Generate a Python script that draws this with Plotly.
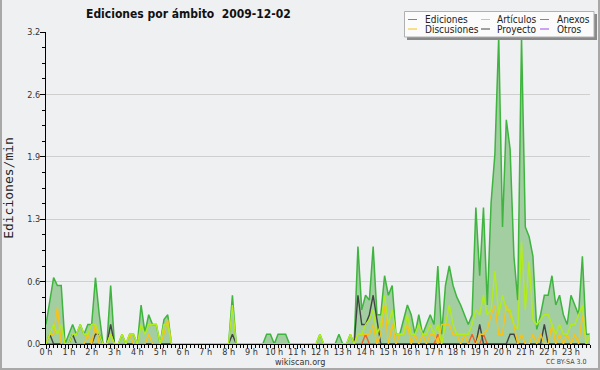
import plotly.graph_objects as go

# ---- data (edits per minute, 10-minute buckets, 00:00 .. 23:50) ----
hours = [f"{h} h" for h in range(24)]
series_names = ["Ediciones", "Artículos", "Anexos", "Discusiones", "Proyecto", "Otros"]

ediciones = [
    0.2, 0.45, 0.68, 0.6, 0.6, 0.0, 0.1, 0.2, 0.1, 0.2, 0.1, 0.2,
    0.2, 0.68, 0.3, 0.0, 0.0, 0.6, 0.0, 0.0, 0.1, 0.0, 0.1, 0.1,
    0.0, 0.4, 0.12, 0.3, 0.2, 0.2, 0.0, 0.25, 0.3, 0.0, 0.0, 0.0,
    0.0, 0.0, 0.0, 0.0, 0.0, 0.0, 0.0, 0.0, 0.0, 0.0, 0.0, 0.0,
    0.0, 0.5, 0.0, 0.0, 0.0, 0.0, 0.0, 0.0, 0.0, 0.0, 0.1, 0.1,
    0.0, 0.1, 0.1, 0.1, 0.0, 0.0, 0.0, 0.0, 0.0, 0.0, 0.0, 0.0,
    0.1, 0.0, 0.0, 0.0, 0.0, 0.1, 0.0, 0.0, 0.1, 0.0, 1.0, 0.35,
    0.5, 0.45, 1.0, 0.3, 0.3, 0.7, 0.5, 0.6, 0.1, 0.1, 0.25, 0.4,
    0.3, 0.1, 0.3, 0.1, 0.2, 0.3, 0.2, 0.8, 0.1, 0.6, 0.8, 0.6,
    0.48, 0.4, 0.3, 0.2, 0.3, 1.4, 0.7, 1.4, 0.4, 1.45, 1.95, 3.15,
    1.2, 2.3, 2.0, 0.9, 0.45, 3.15, 1.2, 1.1, 0.9, 0.15, 0.3, 0.5,
    0.5, 0.7, 0.4, 0.5, 0.3, 0.2, 0.5, 0.4, 0.3, 0.9, 0.1, 0.1,
]
articulos = [
    0.0, 0.1, 0.2, 0.1, 0.2, 0.0, 0.0, 0.1, 0.1, 0.2, 0.1, 0.1,
    0.2, 0.2, 0.1, 0.0, 0.0, 0.1, 0.0, 0.0, 0.1, 0.0, 0.1, 0.1,
    0.0, 0.2, 0.1, 0.2, 0.2, 0.2, 0.0, 0.2, 0.2, 0.0, 0.0, 0.0,
    0.0, 0.0, 0.0, 0.0, 0.0, 0.0, 0.0, 0.0, 0.0, 0.0, 0.0, 0.0,
    0.0, 0.4, 0.0, 0.0, 0.0, 0.0, 0.0, 0.0, 0.0, 0.0, 0.0, 0.0,
    0.0, 0.0, 0.0, 0.0, 0.0, 0.0, 0.0, 0.0, 0.0, 0.0, 0.0, 0.0,
    0.1, 0.0, 0.0, 0.0, 0.0, 0.0, 0.0, 0.0, 0.1, 0.0, 0.1, 0.1,
    0.2, 0.25, 0.35, 0.1, 0.2, 0.5, 0.2, 0.35, 0.1, 0.1, 0.1, 0.3,
    0.1, 0.1, 0.2, 0.1, 0.1, 0.2, 0.1, 0.2, 0.0, 0.2, 0.4, 0.2,
    0.1, 0.1, 0.1, 0.1, 0.2, 0.35, 0.3, 0.5, 0.3, 0.35, 0.75, 0.3,
    0.5, 0.35, 0.35, 0.2, 0.15, 1.05, 0.35, 0.85, 0.25, 0.2, 0.25, 0.3,
    0.3, 0.2, 0.1, 0.2, 0.1, 0.1, 0.2, 0.2, 0.3, 0.4, 0.0, 0.1,
]
discusiones = [
    0.0, 0.1, 0.1, 0.38, 0.0, 0.0, 0.0, 0.0, 0.0, 0.0, 0.0, 0.1,
    0.0, 0.2, 0.0, 0.0, 0.0, 0.1, 0.0, 0.0, 0.0, 0.0, 0.1, 0.0,
    0.0, 0.0, 0.0, 0.1, 0.0, 0.0, 0.0, 0.1, 0.25, 0.0, 0.0, 0.0,
    0.0, 0.0, 0.0, 0.0, 0.0, 0.0, 0.0, 0.0, 0.0, 0.0, 0.0, 0.0,
    0.0, 0.0, 0.0, 0.0, 0.0, 0.0, 0.0, 0.0, 0.0, 0.0, 0.0, 0.0,
    0.0, 0.0, 0.0, 0.0, 0.0, 0.0, 0.0, 0.0, 0.0, 0.0, 0.0, 0.0,
    0.0, 0.0, 0.0, 0.0, 0.0, 0.0, 0.0, 0.0, 0.0, 0.0, 0.1, 0.1,
    0.1, 0.1, 0.2, 0.0, 0.1, 0.4, 0.0, 0.2, 0.0, 0.1, 0.1, 0.2,
    0.0, 0.1, 0.0, 0.1, 0.0, 0.1, 0.1, 0.0, 0.2, 0.2, 0.2, 0.1,
    0.1, 0.0, 0.1, 0.0, 0.0, 0.0, 0.1, 0.1, 0.15, 0.3, 0.4, 0.1,
    0.1, 0.4, 0.3, 0.2, 0.0, 0.1, 0.0, 0.0, 0.1, 0.0, 0.1, 0.0,
    0.0, 0.2, 0.0, 0.1, 0.0, 0.1, 0.0, 0.1, 0.0, 0.3, 0.0, 0.0,
]
proyecto = [
    0.0, 0.1, 0.0, 0.0, 0.0, 0.0, 0.0, 0.1, 0.0, 0.0, 0.0, 0.0,
    0.0, 0.1, 0.1, 0.0, 0.0, 0.2, 0.0, 0.0, 0.0, 0.0, 0.0, 0.0,
    0.0, 0.0, 0.0, 0.0, 0.0, 0.0, 0.0, 0.0, 0.0, 0.0, 0.0, 0.0,
    0.0, 0.0, 0.0, 0.0, 0.0, 0.0, 0.0, 0.0, 0.0, 0.0, 0.0, 0.0,
    0.0, 0.1, 0.0, 0.0, 0.0, 0.0, 0.0, 0.0, 0.0, 0.0, 0.0, 0.0,
    0.0, 0.0, 0.0, 0.0, 0.0, 0.0, 0.0, 0.0, 0.0, 0.0, 0.0, 0.0,
    0.0, 0.0, 0.0, 0.0, 0.0, 0.0, 0.0, 0.0, 0.0, 0.0, 0.5, 0.2,
    0.2, 0.3, 0.5, 0.25, 0.0, 0.0, 0.0, 0.0, 0.0, 0.0, 0.0, 0.0,
    0.0, 0.0, 0.0, 0.0, 0.0, 0.0, 0.0, 0.0, 0.0, 0.0, 0.0, 0.0,
    0.0, 0.0, 0.0, 0.0, 0.0, 0.0, 0.2, 0.0, 0.0, 0.0, 0.0, 0.0,
    0.0, 0.0, 0.1, 0.1, 0.0, 0.0, 0.0, 0.0, 0.0, 0.0, 0.0, 0.2,
    0.0, 0.0, 0.0, 0.0, 0.0, 0.0, 0.0, 0.0, 0.0, 0.0, 0.0, 0.0,
]
anexos = [0.0] * 84 + [0.1] + [0.0] * 18 + [0.1] + [0.0] * 8 + [0.1] + [0.0] * 2 + [0.1] + [0.0] * 28
otros = [0.0] * 144

x_hours = [i / 6 for i in range(144)]

# y axis: ticks every 0.64, labels rounded to one decimal
y_tickvals = [0.0, 0.64, 1.28, 1.92, 2.56, 3.2]
y_ticktext = ["0.0", "0.6", "1.3", "1.9", "2.6", "3.2"]

colors = {
    "Ediciones": "#3fb43f",
    "Artículos": "#b2ec1c",
    "Anexos": "#f0622a",
    "Discusiones": "#f7c21a",
    "Proyecto": "#444444",
    "Otros": "#9a4df0",
}
values = {
    "Ediciones": ediciones,
    "Artículos": articulos,
    "Anexos": anexos,
    "Discusiones": discusiones,
    "Proyecto": proyecto,
    "Otros": otros,
}

BG = "#eff0f1"
W, H = 600, 370
L, R, T, B = 46, 10, 32, 26
PW, PH = W - L - R, H - T - B

def px(x):
    return (x - L) / PW

def py(y):
    return (H - B - y) / PH

fig = go.Figure()
fig.add_trace(go.Scatter(
    x=x_hours, y=ediciones, mode="lines", name="Ediciones",
    line=dict(color=colors["Ediciones"], width=1.5),
    fill="tozeroy", fillcolor="#a2cea2", showlegend=False,
))
for name in ["Otros", "Anexos", "Proyecto", "Discusiones", "Artículos"]:
    fig.add_trace(go.Scatter(
        x=x_hours, y=values[name], mode="lines", name=name,
        line=dict(color=colors[name], width=1.4), showlegend=False,
    ))

tickfont = dict(family="DejaVu Sans Condensed, DejaVu Sans", size=9, color="#333333")

fig.update_layout(
    width=W, height=H,
    margin=dict(l=L, r=R, t=T, b=B, pad=0, autoexpand=False),
    paper_bgcolor=BG, plot_bgcolor=BG,
    xaxis=dict(
        range=[0, 143 / 6], tickmode="array", tickvals=list(range(24)), ticktext=hours,
        ticks="outside", ticklen=4, tickwidth=1, tickcolor="black",
        ticklabelstandoff=-5,
        showline=True, linecolor="black", linewidth=1, automargin=False,
        showgrid=False, zeroline=False, tickfont=tickfont,
        minor=dict(tickmode="linear", tick0=0, dtick=1 / 6, ticks="outside",
                   ticklen=3, tickcolor="black", showgrid=False),
    ),
    yaxis=dict(
        range=[0, 3.2], tickmode="array", tickvals=y_tickvals, ticktext=y_ticktext,
        ticks="outside", ticklen=5, tickwidth=1, tickcolor="black",
        ticklabelstandoff=-2,
        showline=True, linecolor="black", linewidth=1, automargin=False,
        showgrid=True, gridcolor="#cfcfcf", gridwidth=1, zeroline=False,
        tickfont=tickfont,
        title=dict(text="Ediciones/min", standoff=10,
                   font=dict(family="DejaVu Sans Mono", size=13, color="#222222")),
        minor=dict(tickmode="linear", tick0=0, dtick=0.16, ticks="outside",
                   ticklen=3, tickcolor="black", showgrid=False),
    ),
)

shapes = []
annotations = []

# title
annotations.append(dict(
    xref="paper", yref="paper", x=px(188), y=py(14), xanchor="center", yanchor="middle",
    text="<b>Ediciones por ámbito&nbsp;&nbsp;2009-12-02</b>", showarrow=False,
    font=dict(family="DejaVu Sans Condensed, DejaVu Sans", size=12, color="#111111"),
))

# legend box with shadow
shapes.append(dict(type="rect", xref="paper", yref="paper",
                   x0=px(407), x1=px(597), y0=py(40), y1=py(14),
                   fillcolor="#8a8a8a", line=dict(width=0), layer="above"))
shapes.append(dict(type="rect", xref="paper", yref="paper",
                   x0=px(404.5), x1=px(594), y0=py(37), y1=py(11.5),
                   fillcolor="#fbfbfb", line=dict(color="#b0b0b0", width=1), layer="above"))

legend_layout = [("Ediciones", 0, 0), ("Artículos", 1, 0), ("Anexos", 2, 0),
                 ("Discusiones", 0, 1), ("Proyecto", 1, 1), ("Otros", 2, 1)]
col_line_x = [408, 481, 540]
col_text_x = [423, 495, 555]
row_y = [19.5, 29]
for name, c, r in legend_layout:
    shapes.append(dict(type="line", xref="paper", yref="paper",
                       x0=px(col_line_x[c]), x1=px(col_line_x[c] + 9),
                       y0=py(row_y[r]), y1=py(row_y[r]),
                       line=dict(color=colors[name], width=1), layer="above"))
    annotations.append(dict(
        xref="paper", yref="paper", x=px(col_text_x[c]), y=py(row_y[r]),
        xanchor="left", yanchor="middle", text=name, showarrow=False,
        font=dict(family="DejaVu Sans Condensed, DejaVu Sans", size=10, color="#222222"),
    ))

# footer texts
annotations.append(dict(
    xref="paper", yref="paper", x=px(300), y=py(362), xanchor="center", yanchor="middle",
    text="wikiscan.org", showarrow=False,
    font=dict(family="DejaVu Sans Condensed, DejaVu Sans", size=9, color="#333333"),
))
annotations.append(dict(
    xref="paper", yref="paper", x=px(588), y=py(362), xanchor="right", yanchor="middle",
    text="CC BY-SA 3.0", showarrow=False,
    font=dict(family="DejaVu Sans Condensed, DejaVu Sans", size=7, color="#444444"),
))

# outer frame (left, right, bottom)
frame = dict(color="#a8a8a8", width=2)
shapes.append(dict(type="line", xref="paper", yref="paper", x0=px(1), x1=px(1), y0=py(0), y1=py(369), line=frame))
shapes.append(dict(type="line", xref="paper", yref="paper", x0=px(599), x1=px(599), y0=py(0), y1=py(369), line=frame))
shapes.append(dict(type="line", xref="paper", yref="paper", x0=px(0), x1=px(600), y0=py(369), y1=py(369), line=frame))

fig.update_layout(shapes=shapes, annotations=annotations)
fig.write_html(
    "out.html",
    config={"displayModeBar": False},
    post_script="document.body.style.margin='0';document.body.style.padding='0';",
)
